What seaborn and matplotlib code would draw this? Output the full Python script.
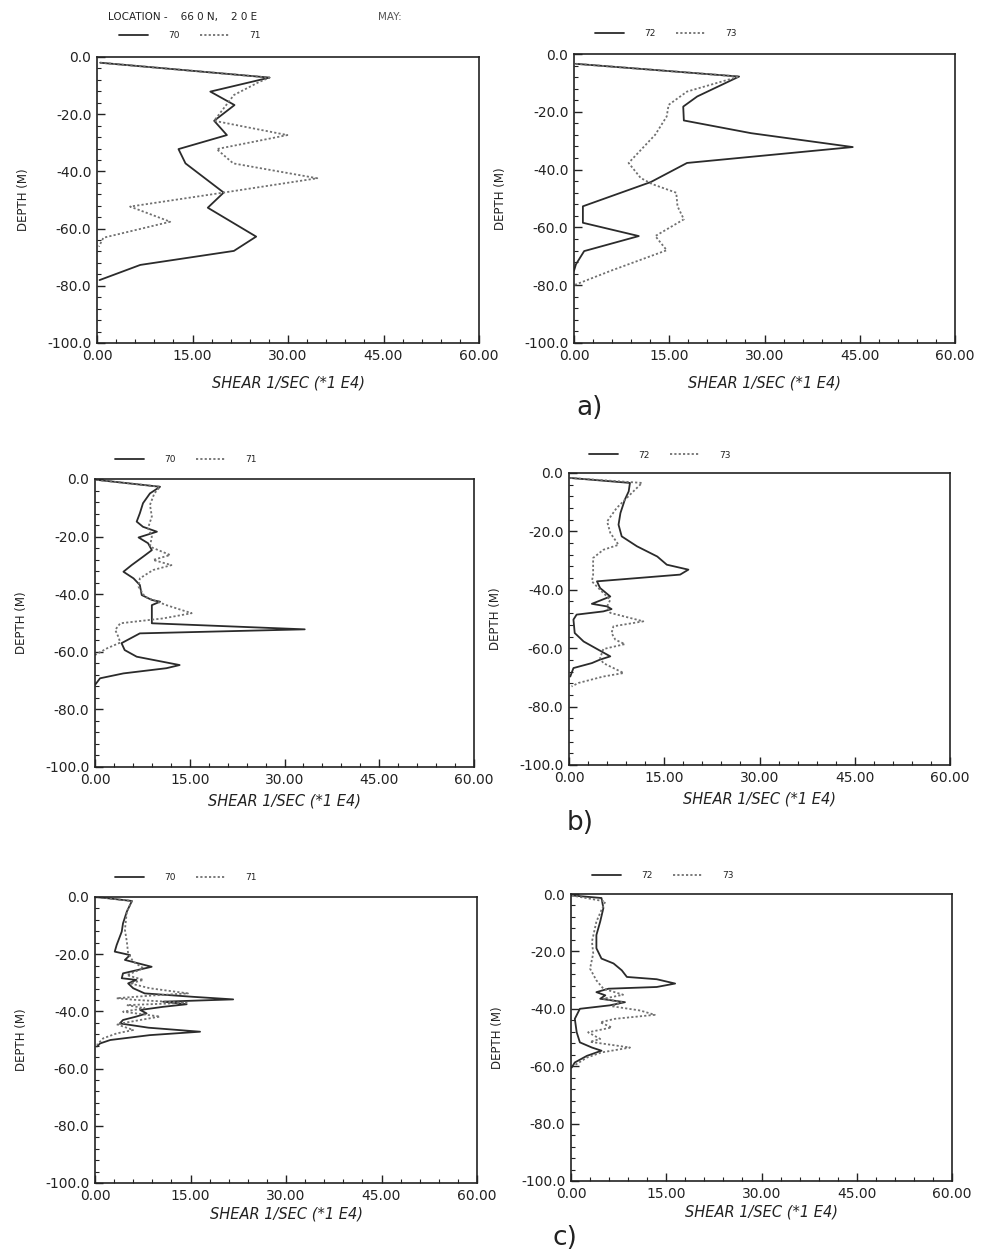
import numpy as np
import pandas as pd
import seaborn as sns
import matplotlib
matplotlib.use("Agg")
import matplotlib.pyplot as plt
from matplotlib.ticker import FixedLocator, MultipleLocator

# ---------------- data ----------------
years_left = ["70", "71"]
years_right = ["72", "73"]

# panel a
a70_depth = [-2, -7.2, -12.1, -16.8, -22.3, -27.3, -32.2, -37.2, -47.4, -52.7, -62.8, -67.8, -72.7, -78]
a70_shear = [0.5, 27.1, 17.8, 21.6, 18.4, 20.4, 12.8, 13.9, 19.9, 17.4, 25.0, 21.5, 6.8, 0.4]
a71_depth = [-2, -7.2, -8.8, -13.3, -22.3, -27.3, -32.2, -37.2, -42.4, -47.4, -52.3, -57.6, -63.2, -66.3]
a71_shear = [0.5, 27.1, 25.4, 21.5, 18.4, 29.9, 18.8, 21.4, 34.6, 19.9, 5.2, 11.5, 1.0, 0.3]
a72_depth = [-3.4, -7.8, -14.7, -18.2, -23, -27.4, -32.2, -37.7, -44.3, -52.7, -58.4, -63, -68.2, -72.8, -75]
a72_shear = [0.3, 26.0, 19.4, 17.2, 17.3, 27.9, 43.9, 17.8, 12.1, 1.4, 1.4, 10.2, 1.6, 0.3, 0.0]
a73_depth = [-3.4, -7.8, -13, -17.6, -21.6, -27.9, -37.7, -42.9, -45, -48, -52.7, -57.2, -63, -67.9, -75, -80]
a73_shear = [0.3, 26.0, 17.8, 14.9, 14.6, 12.8, 8.6, 10.5, 12.3, 16.1, 16.3, 17.3, 12.8, 14.6, 5.8, 0.0]

# panel b
b70_depth = [-0.3, -2.7, -5, -8.4, -11.9, -14.8, -16.6, -18.3, -20.3, -22.3, -24.7, -27, -29.9, -32.2,
             -34.5, -36.8, -40.3, -42, -42.6, -43.8, -50.1, -52.2, -53.6, -57, -59.4, -61.7, -64.6,
             -65.7, -67.5, -69.2, -71.5]
b70_shear = [0.3, 10.3, 8.7, 7.6, 7.1, 6.6, 7.6, 9.8, 6.9, 8.4, 9.0, 7.6, 5.8, 4.5,
             6.1, 7.1, 7.4, 9.0, 10.3, 9.0, 9.0, 33.2, 7.1, 4.2, 4.7, 6.6, 13.4,
             11.3, 4.5, 0.8, 0.0]
b71_depth = [-0.3, -2.7, -5, -9, -13, -17, -20, -23.5, -26.4, -28.1, -29.9, -31.6, -34.5, -37.4,
             -40.9, -43.8, -46.6, -48.4, -50.1, -52.4, -54.8, -56.8, -58.8, -61.1]
b71_shear = [0.3, 10.3, 9.4, 8.7, 9.0, 8.4, 9.0, 8.7, 11.9, 9.2, 12.1, 9.2, 7.1, 6.9,
             7.9, 11.3, 15.3, 10.8, 4.0, 3.2, 3.7, 4.0, 1.9, 0.0]
b72_depth = [-1.7, -3.4, -6.3, -9.1, -13.7, -17.7, -21.7, -25.1, -28.6, -31.4, -33.1, -34.8, -37.1,
             -39.4, -42.3, -44.8, -45.7, -46.6, -47.4, -48.5, -50.2, -54.8, -57.7, -60.5, -62.8,
             -63.9, -65.1, -66.8, -69.7]
b72_shear = [0.2, 9.6, 9.4, 8.8, 8.1, 7.8, 8.3, 10.7, 13.9, 15.4, 18.8, 17.5, 4.4,
             4.9, 6.5, 3.6, 6.0, 6.7, 5.4, 1.2, 0.7, 0.9, 2.3, 4.6, 6.5,
             4.9, 3.6, 0.7, 0.2]
b73_depth = [-1.7, -3.4, -6.8, -12, -16.6, -20.5, -24.6, -26.3, -29.1, -34.8, -37.1, -40, -43.4,
             -45.7, -47.9, -50.8, -52.5, -54.8, -57.1, -58.6, -60.3, -63.4, -65.1, -68.5, -69.7,
             -71.9, -73.1]
b73_shear = [0.2, 11.5, 9.9, 7.5, 6.0, 6.5, 7.8, 5.4, 3.8, 3.8, 3.6, 4.9, 6.5,
             6.0, 6.5, 11.7, 7.0, 6.7, 7.3, 8.8, 5.4, 4.9, 5.4, 8.6, 5.4,
             1.5, 0.4]

# panel c
c70_depth = [0, -1.4, -5.1, -9.2, -12.1, -16.8, -19.1, -20.3, -22, -24.4, -26.7, -28.4, -29, -30.2,
             -31.9, -33.7, -34.9, -35.8, -36.6, -37.5, -38.4, -39.5, -40.7, -41.8, -43, -44.2,
             -45.7, -47.1, -48.3, -50, -51.2, -52.3]
c70_shear = [0.3, 5.8, 5.0, 4.4, 4.2, 3.4, 3.1, 5.5, 4.7, 8.9, 4.4, 4.2, 6.5, 5.2,
             6.0, 7.8, 15.4, 21.7, 10.7, 14.4, 10.7, 7.1, 8.1, 6.5, 4.4, 3.9,
             8.4, 16.5, 8.6, 2.4, 0.8, 0.3]
c71_depth = [0, -1.4, -5.1, -11.5, -15.6, -19.7, -22.6, -24.9, -27.3, -29, -30.2, -31.9, -33.7, -34.5,
             -35.4, -36, -37, -37.8, -38.9, -40.1, -41.8, -43, -44.5, -46.5, -47.7, -49.4, -51.7]
c71_shear = [0.3, 5.8, 5.0, 4.7, 5.0, 5.2, 6.0, 7.6, 5.0, 7.6, 5.5, 8.6, 14.6, 8.6,
             3.4, 6.5, 14.4, 5.0, 7.8, 4.4, 10.2, 7.1, 3.4, 6.0, 3.4, 1.3, 0.3]
c72_depth = [-0.5, -1.4, -4.9, -9.6, -14.3, -18.9, -22.5, -24.2, -26.6, -28.9, -29.7, -31.2, -32.4,
             -33, -34.2, -35.3, -36.5, -37.7, -38.8, -40, -43.5, -48.2, -51.7, -53.5, -54.6,
             -56.4, -58.7, -60.5]
c72_shear = [0.1, 4.8, 5.1, 4.6, 4.0, 4.0, 4.8, 6.7, 8.0, 8.8, 13.5, 16.4, 13.5,
             5.9, 4.0, 5.4, 4.6, 8.5, 6.1, 1.4, 0.6, 0.9, 1.4, 3.3, 4.8,
             2.5, 0.6, 0.1]
c73_depth = [-0.5, -2.6, -9.6, -16.6, -20.7, -26, -30.1, -33, -35.1, -36.5, -37.7, -39.1, -40.6,
             -42.1, -43.5, -44.7, -46.5, -48.2, -50.5, -51.5, -53.5, -55.2, -57, -59.9]
c73_shear = [0.1, 5.4, 4.0, 3.3, 3.5, 3.0, 4.0, 5.1, 8.2, 5.1, 8.0, 6.4, 10.9,
             13.2, 6.9, 4.6, 6.4, 2.7, 4.6, 3.0, 9.3, 4.8, 2.5, 0.4]

x_ticks = [0, 15, 30, 45, 60]
x_ticklabels = ["0.00", "15.00", "30.00", "45.00", "60.00"]
y_ticks = [0, -20, -40, -60, -80, -100]
y_ticklabels = ["0.0", "-20.0", "-40.0", "-60.0", "-80.0", "-100.0"]

# ---------------- figure ----------------
sns.set_style("ticks")
plt.rcParams["font.family"] = ["DejaVu Sans"]
plt.rcParams["axes.unicode_minus"] = False

W, H = 982, 1250
fig = plt.figure(figsize=(W / 100, H / 100), dpi=100)
fig.patch.set_facecolor("white")


def px_axes(left, right, top, bottom):
    return fig.add_axes([left / W, 1 - bottom / H, (right - left) / W, (bottom - top) / H])


panels = [
    # box (left, right, top, bottom), series, years, legend x offset px, legend y px above, xlabel pad
    ((97, 479, 57, 343), [(a70_shear, a70_depth), (a71_shear, a71_depth)], years_left, 22, 21, 9),
    ((574, 955, 54, 343), [(a72_shear, a72_depth), (a73_shear, a73_depth)], years_right, 21, 20, 9),
    ((95, 474, 479, 767), [(b70_shear, b70_depth), (b71_shear, b71_depth)], years_left, 20, 19, 5),
    ((569, 950, 473, 765), [(b72_shear, b72_depth), (b73_shear, b73_depth)], years_right, 20, 18, 5),
    ((95, 477, 897, 1183), [(c70_shear, c70_depth), (c71_shear, c71_depth)], years_left, 20, 19, 3),
    ((571, 952, 894, 1181), [(c72_shear, c72_depth), (c73_shear, c73_depth)], years_right, 21, 18, 3),
]

styles = [dict(color="#2b2b2b", linewidth=1.3, linestyle="-"),
          dict(color="#707070", linewidth=1.3, linestyle=(0, (1.2, 1.2)))]

for (box, series, yrs, lx, ly, xpad) in panels:
    left, right, top, bottom = box
    ax = px_axes(left, right, top, bottom)
    for (sh, dp), st, yr in zip(series, styles, yrs):
        df = pd.DataFrame({"shear": sh, "depth": dp})
        sns.lineplot(data=df, x="shear", y="depth", sort=False, estimator=None,
                     ax=ax, label=yr, **st)
    ax.set_xlim(0, 60)
    ax.set_ylim(-100, 0)
    ax.xaxis.set_major_locator(FixedLocator(x_ticks))
    ax.set_xticklabels(x_ticklabels)
    ax.yaxis.set_major_locator(FixedLocator(y_ticks))
    ax.set_yticklabels(y_ticklabels)
    ax.xaxis.set_minor_locator(MultipleLocator(3))
    ax.yaxis.set_minor_locator(MultipleLocator(4))
    ax.tick_params(which="major", direction="in", length=6, width=1.0, labelsize=10,
                   color="#222222", labelcolor="#222222", pad=4)
    ax.tick_params(which="minor", direction="in", length=3, width=0.8, color="#222222")
    for s in ax.spines.values():
        s.set_linewidth(1.2)
        s.set_color("#222222")
    ax.set_xlabel("SHEAR 1/SEC (*1 E4)", fontsize=10.5, style="italic", color="#222222",
                  labelpad=xpad)
    ax.set_ylabel("DEPTH (M)", fontsize=8.5, color="#222222", labelpad=12)
    wpx = right - left
    hpx = bottom - top
    leg = ax.legend(loc="center left", bbox_to_anchor=(lx / wpx, 1 + ly / hpx), ncol=2,
                    frameon=False, fontsize=6.5, handlelength=3.2, handletextpad=2.3,
                    columnspacing=2.2, borderaxespad=0, borderpad=0)
    for t in leg.get_texts():
        t.set_color("#222222")

fig.text(108 / W, 1 - 17 / H, "LOCATION -    66 0 N,    2 0 E", fontsize=7.5,
         va="center", ha="left", color="#222222")
fig.text(378 / W, 1 - 17 / H, "MAY:", fontsize=7.5, va="center", ha="left", color="#555555")

fig.text(590 / W, 1 - 408 / H, "a)", fontsize=19, va="center", ha="center", color="#222222")
fig.text(580 / W, 1 - 823 / H, "b)", fontsize=19, va="center", ha="center", color="#222222")
fig.text(565 / W, 1 - 1238 / H, "c)", fontsize=19, va="center", ha="center", color="#222222")

fig.savefig("out.png", dpi=100, facecolor="white")
